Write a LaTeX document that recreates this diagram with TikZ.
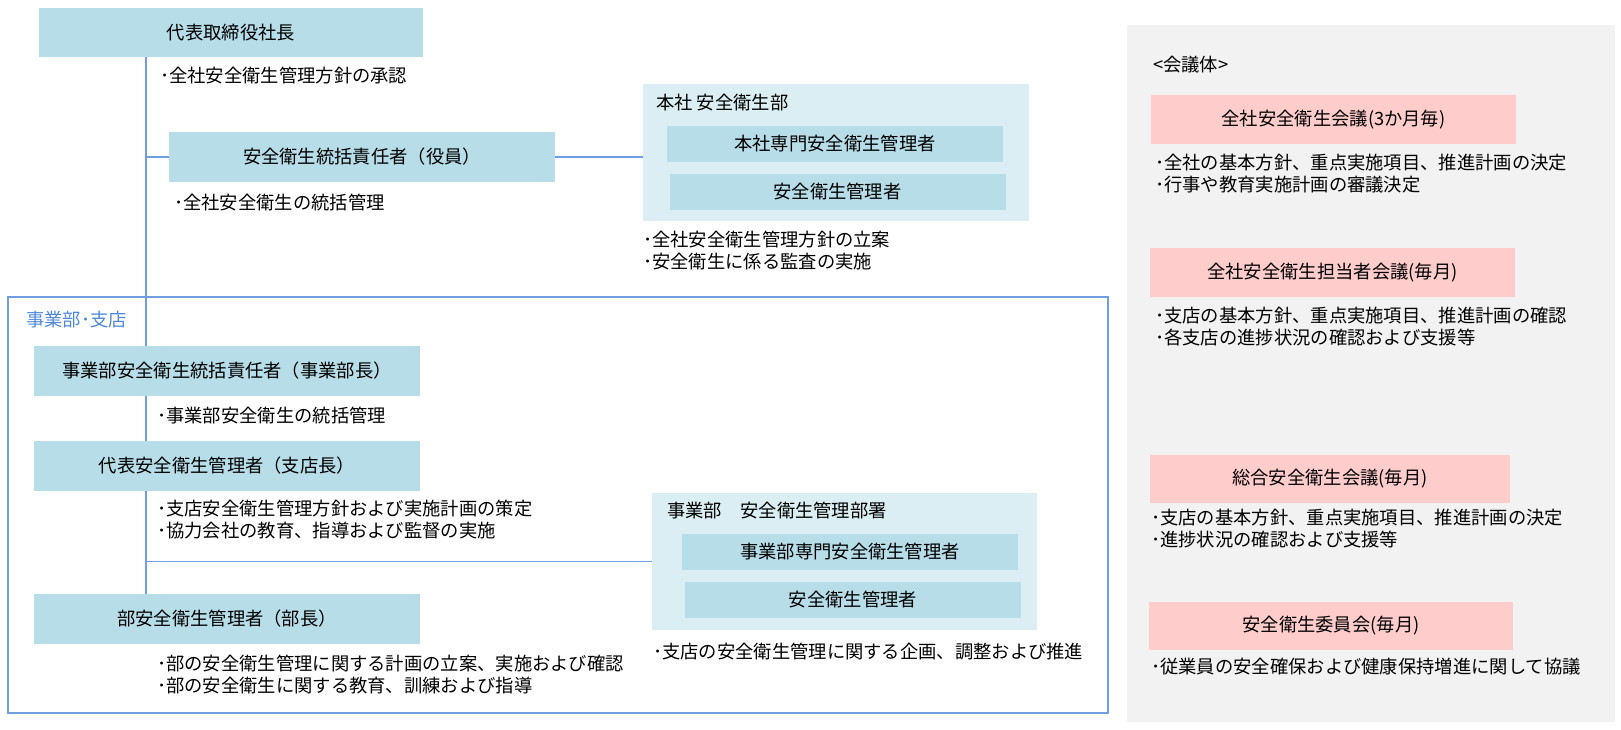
\documentclass[tikz,border=0pt]{standalone}
\usepackage{fontspec}
\setmainfont{Noto Sans CJK JP}
\definecolor{boxblue}{HTML}{B7DEE8}
\definecolor{paleblue}{HTML}{DAEEF3}
\definecolor{pink3}{HTML}{FFCCCC}
\definecolor{gray1}{HTML}{F2F2F2}
\definecolor{lineblue}{HTML}{6F9FE0}
\definecolor{textblue}{HTML}{4F88D8}
\usepackage{tikz}

\begin{document}
\begin{tikzpicture}[x=1pt, y=-1pt, every node/.style={font=\fontsize{18.3}{22}\selectfont},
    role/.style={fill=boxblue, minimum height=50pt, minimum width=386pt},
    sub/.style={fill=boxblue, minimum height=36pt, minimum width=336pt},
    dept/.style={fill=paleblue, minimum height=137pt, minimum width=386pt},
    meet/.style={fill=pink3, minimum height=49pt, minimum width=365pt},
    note/.style={anchor=west, inner sep=0pt, align=left},
    link/.style={draw=lineblue, line width=1.3pt}]
  \useasboundingbox (0,0) rectangle (1621,729);

  \node[fill=gray1, minimum width=488pt, minimum height=697pt] at (1371,373.5) (panel) {};
  \node[link, minimum width=1100pt, minimum height=416pt] at (558,505) (branch) {};
  \coordinate (spine) at (146,0);

  \node[role, minimum width=384pt, minimum height=49pt] at (231,32.5) (ceo) {代表取締役社長};
  \node[note] at (160,76) (ceonote) {･全社安全衛生管理方針の承認};

  \node[role] at (362,157) (exec) {安全衛生統括責任者（役員）};
  \node[note] at (174,203) (execnote) {･全社安全衛生の統括管理};

  \node[dept] at (836,152.5) (hq) {};
  \node[note] at (656,103) (hqtitle) {本社 安全衛生部};
  \node[sub] at (835,143.5) (hq1) {本社専門安全衛生管理者};
  \node[sub] at (837.5,192) (hq2) {安全衛生管理者};
  \node[note] at (643,251) (hqnote) {･全社安全衛生管理方針の立案\\･安全衛生に係る監査の実施};

  \node[note, text=textblue] at (26,320) (branchtitle) {事業部･支店};

  \node[role] at (227,371) (div) {事業部安全衛生統括責任者（事業部長）};
  \node[note] at (157,416) (divnote) {･事業部安全衛生の統括管理};
  \node[role] at (227,466) (mgr) {代表安全衛生管理者（支店長）};
  \node[note] at (157,519.5) (mgrnote) {･支店安全衛生管理方針および実施計画の策定\\･協力会社の教育、指導および監督の実施};
  \node[role] at (227,619) (sec) {部安全衛生管理者（部長）};
  \node[note] at (157,674.5) (secnote) {･部の安全衛生管理に関する計画の立案、実施および確認\\･部の安全衛生に関する教育、訓練および指導};

  \node[dept, minimum width=385pt] at (844.5,561.5) (dv) {};
  \node[note] at (667,511) (dvtitle) {事業部　安全衛生管理部署};
  \node[sub] at (850,552) (dv1) {事業部専門安全衛生管理者};
  \node[sub] at (853,600) (dv2) {安全衛生管理者};
  \node[note] at (653,652) (dvnote) {･支店の安全衛生管理に関する企画、調整および推進};

  \draw[link] (ceo.south -| spine) -- (div.north -| spine);
  \draw[link] (div.south -| spine) -- (mgr.north -| spine);
  \draw[link] (mgr.south -| spine) -- (sec.north -| spine);
  \draw[link] (exec.west -| spine) -- (exec.west);
  \draw[link] (exec.east) -- (exec.east -| hq.west);
  \draw[link] (dv.west -| spine) -- (dv.west);

  \node[note] at (1153,65) (meettitle) {<会議体>};
  \node[meet] at (1333.5,119.5) (m1) {全社安全衛生会議(3か月毎)};
  \node[note] at (1155,174) (m1note) {･全社の基本方針、重点実施項目、推進計画の決定\\･行事や教育実施計画の審議決定};
  \node[meet] at (1332.5,272.5) (m2) {全社安全衛生担当者会議(毎月)};
  \node[note] at (1155,327) (m2note) {･支店の基本方針、重点実施項目、推進計画の確認\\･各支店の進捗状況の確認および支援等};
  \node[meet, minimum width=360pt, minimum height=48pt] at (1330,479) (m3) {総合安全衛生会議(毎月)};
  \node[note] at (1151,529) (m3note) {･支店の基本方針、重点実施項目、推進計画の決定\\･進捗状況の確認および支援等};
  \node[meet, minimum width=364pt, minimum height=48pt] at (1331,626) (m4) {安全衛生委員会(毎月)};
  \node[note] at (1151,667) (m4note) {･従業員の安全確保および健康保持増進に関して協議};
\end{tikzpicture}
\end{document}
